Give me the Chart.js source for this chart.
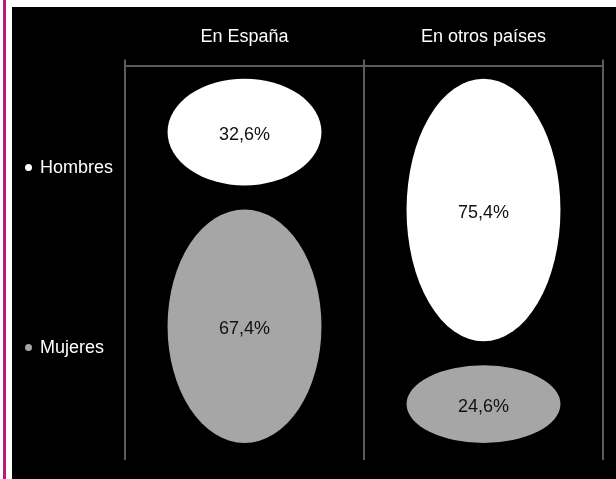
<!DOCTYPE html>
<html>
<head>
<meta charset="utf-8">
<script src="https://cdn.jsdelivr.net/npm/chart.js@4.4.1/dist/chart.umd.min.js"></script>
<style>
  html, body { margin: 0; padding: 0; background: #fff; overflow: hidden; }
  body { width: 616px; height: 479px; position: relative; font-family: "Liberation Sans", Arial, Helvetica, sans-serif; }
  #rule { position: absolute; left: 3px; top: 0; width: 3px; height: 479px; background: #b8197f; }
  #panel { position: absolute; left: 12px; top: 7px; width: 604px; height: 472px; background: #000; }
  #chartBox { position: absolute; left: 0; top: 0; width: 604px; height: 472px; }
  #legend { position: absolute; left: 13px; top: 149px; display: flex; flex-direction: column; gap: 158px; }
  .item { display: flex; align-items: center; height: 22px; color: #fff; font-size: 18px; }
  .dot { width: 7px; height: 7px; border-radius: 50%; margin-right: 8px; }
</style>
</head>
<body>
<div id="rule"></div>
<div id="panel">
  <div id="chartBox"><canvas id="chart"></canvas></div>
  <div id="legend"></div>
</div>
<script>
// chart data
const categories = ['En España', 'En otros países'];
const hombres = [32.6, 75.4];
const mujeres = [67.4, 24.6];
const seriesNames = ['Hombres', 'Mujeres'];
const seriesColors = ['#ffffff', '#a6a6a6'];

const lineColor = '#5c5c5c';
const fontFamily = '"Liberation Sans", Arial, Helvetica, sans-serif';

// legend on the left, built from the series
const legend = document.getElementById('legend');
seriesNames.forEach((name, i) => {
    const item = document.createElement('div');
    item.className = 'item';
    item.innerHTML = `<span class="dot" style="background:${seriesColors[i]}"></span>${name}`;
    legend.appendChild(item);
});

const fmt = v => v.toFixed(1).replace('.', ',') + '%';

// draws each stacked segment as an ellipse with its value in the middle
const ellipseBars = {
    id: 'ellipseBars',
    beforeDatasetDraw(chart, args) {
        const { ctx } = chart;
        const meta = args.meta;
        const ds = chart.data.datasets[args.index];
        const last = chart.data.datasets.length - 1;
        const gap = 12;
        meta.data.forEach((el, i) => {
            const { x, y, base, width } = el.getProps(['x', 'y', 'base', 'width'], true);
            let top = Math.min(y, base);
            let bottom = Math.max(y, base);
            if (args.index > 0) top += gap;
            if (args.index < last) bottom -= gap;
            const cy = (top + bottom) / 2;
            ctx.save();
            ctx.beginPath();
            ctx.ellipse(x, cy, width / 2, (bottom - top) / 2, 0, 0, Math.PI * 2);
            ctx.fillStyle = ds.backgroundColor;
            ctx.fill();
            ctx.fillStyle = '#111';
            ctx.font = '18px ' + fontFamily;
            ctx.textAlign = 'center';
            ctx.textBaseline = 'middle';
            ctx.fillText(fmt(ds.data[i]), x, cy + 3);
            ctx.restore();
        });
        return false;
    }
};

new Chart(document.getElementById('chart'), {
    type: 'bar',
    data: {
        labels: categories,
        datasets: [
            { label: seriesNames[0], data: hombres, backgroundColor: seriesColors[0] },
            { label: seriesNames[1], data: mujeres, backgroundColor: seriesColors[1] }
        ]
    },
    options: {
        responsive: true,
        maintainAspectRatio: false,
        animation: false,
        layout: { padding: { left: 113, right: 13, top: 7, bottom: 19 } },
        datasets: { bar: { categoryPercentage: 1, barPercentage: 0.644 } },
        plugins: { legend: { display: false }, tooltip: { enabled: false } },
        scales: {
            x: {
                position: 'top',
                stacked: true,
                grid: { offset: true, color: lineColor, lineWidth: 2, tickLength: 6 },
                border: { display: true, color: lineColor, width: 2 },
                ticks: { color: '#fff', font: { size: 18, family: fontFamily }, padding: 12 }
            },
            y: {
                display: false,
                stacked: true,
                reverse: true,
                min: -3.6,
                max: 104.7
            }
        }
    },
    plugins: [ellipseBars]
});
</script>
</body>
</html>
